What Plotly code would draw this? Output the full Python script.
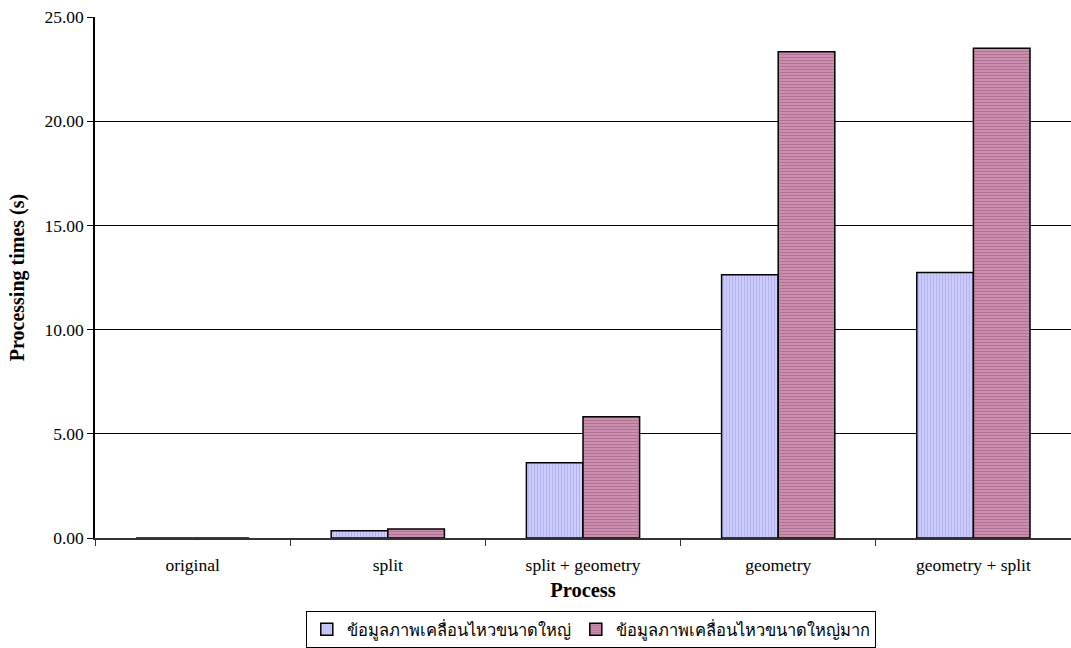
import plotly.graph_objects as go

# Processing times per process for two sizes of motion-picture data
categories = ["original", "split", "split + geometry", "geometry", "geometry + split"]
series_names = ["ข้อมูลภาพเคลื่อนไหวขนาดใหญ่", "ข้อมูลภาพเคลื่อนไหวขนาดใหญ่มาก"]
large_times = [0.00, 0.35, 3.61, 12.63, 12.74]
very_large_times = [0.00, 0.43, 5.82, 23.33, 23.50]
y_ticks = [0, 5, 10, 15, 20, 25]

serif = "Liberation Serif, Times New Roman, serif"

fig = go.Figure()
fig.add_trace(go.Bar(
    x=categories, y=large_times, name=series_names[0],
    marker=dict(
        color="#CCCCFF",
        line=dict(color="#000000", width=1.5),
        pattern=dict(shape="|", bgcolor="#CCCCFF", fgcolor="#B4B4EC",
                     size=3, solidity=0.35, fillmode="replace"),
    ),
))
fig.add_trace(go.Bar(
    x=categories, y=very_large_times, name=series_names[1],
    marker=dict(
        color="#C98BAB",
        line=dict(color="#000000", width=1.5),
        pattern=dict(shape="-", bgcolor="#CC8EAE", fgcolor="#B07192",
                     size=3, solidity=0.35, fillmode="replace"),
    ),
))

fig.update_layout(
    width=1071, height=648,
    margin=dict(l=95, r=0, t=17, b=110),
    paper_bgcolor="white", plot_bgcolor="white",
    barmode="group", bargap=0.42, bargroupgap=0,
    font=dict(family=serif, size=17.5, color="#000000"),
    showlegend=True,
    legend=dict(
        orientation="h", x=0.508, xanchor="center", y=-0.14, yanchor="top",
        bordercolor="#000000", borderwidth=1, bgcolor="white",
        font=dict(family="Noto Sans, DejaVu Sans, sans-serif", size=16.5, color="#000000"),
        itemwidth=30, traceorder="normal",
    ),
    xaxis=dict(
        title=dict(text="<b>Process</b>", font=dict(family=serif, size=20.5), standoff=9),
        showline=True, linecolor="#333333", linewidth=2,
        ticks="outside", tickson="boundaries", ticklen=6, tickcolor="#333333",
        ticklabelstandoff=10,
        showgrid=False, tickfont=dict(family=serif, size=17.5),
    ),
    yaxis=dict(
        title=dict(text="<b>Processing times (s)</b>", font=dict(family=serif, size=20), standoff=14),
        range=[0, 25], tickvals=y_ticks, tickformat=".2f",
        showline=True, linecolor="#000000", linewidth=1.5,
        ticks="outside", ticklen=6, tickcolor="#000000",
        showgrid=True, gridcolor="#000000", gridwidth=1,
        zeroline=False, tickfont=dict(family=serif, size=17.5),
    ),
)

fig.write_html("out.html")
